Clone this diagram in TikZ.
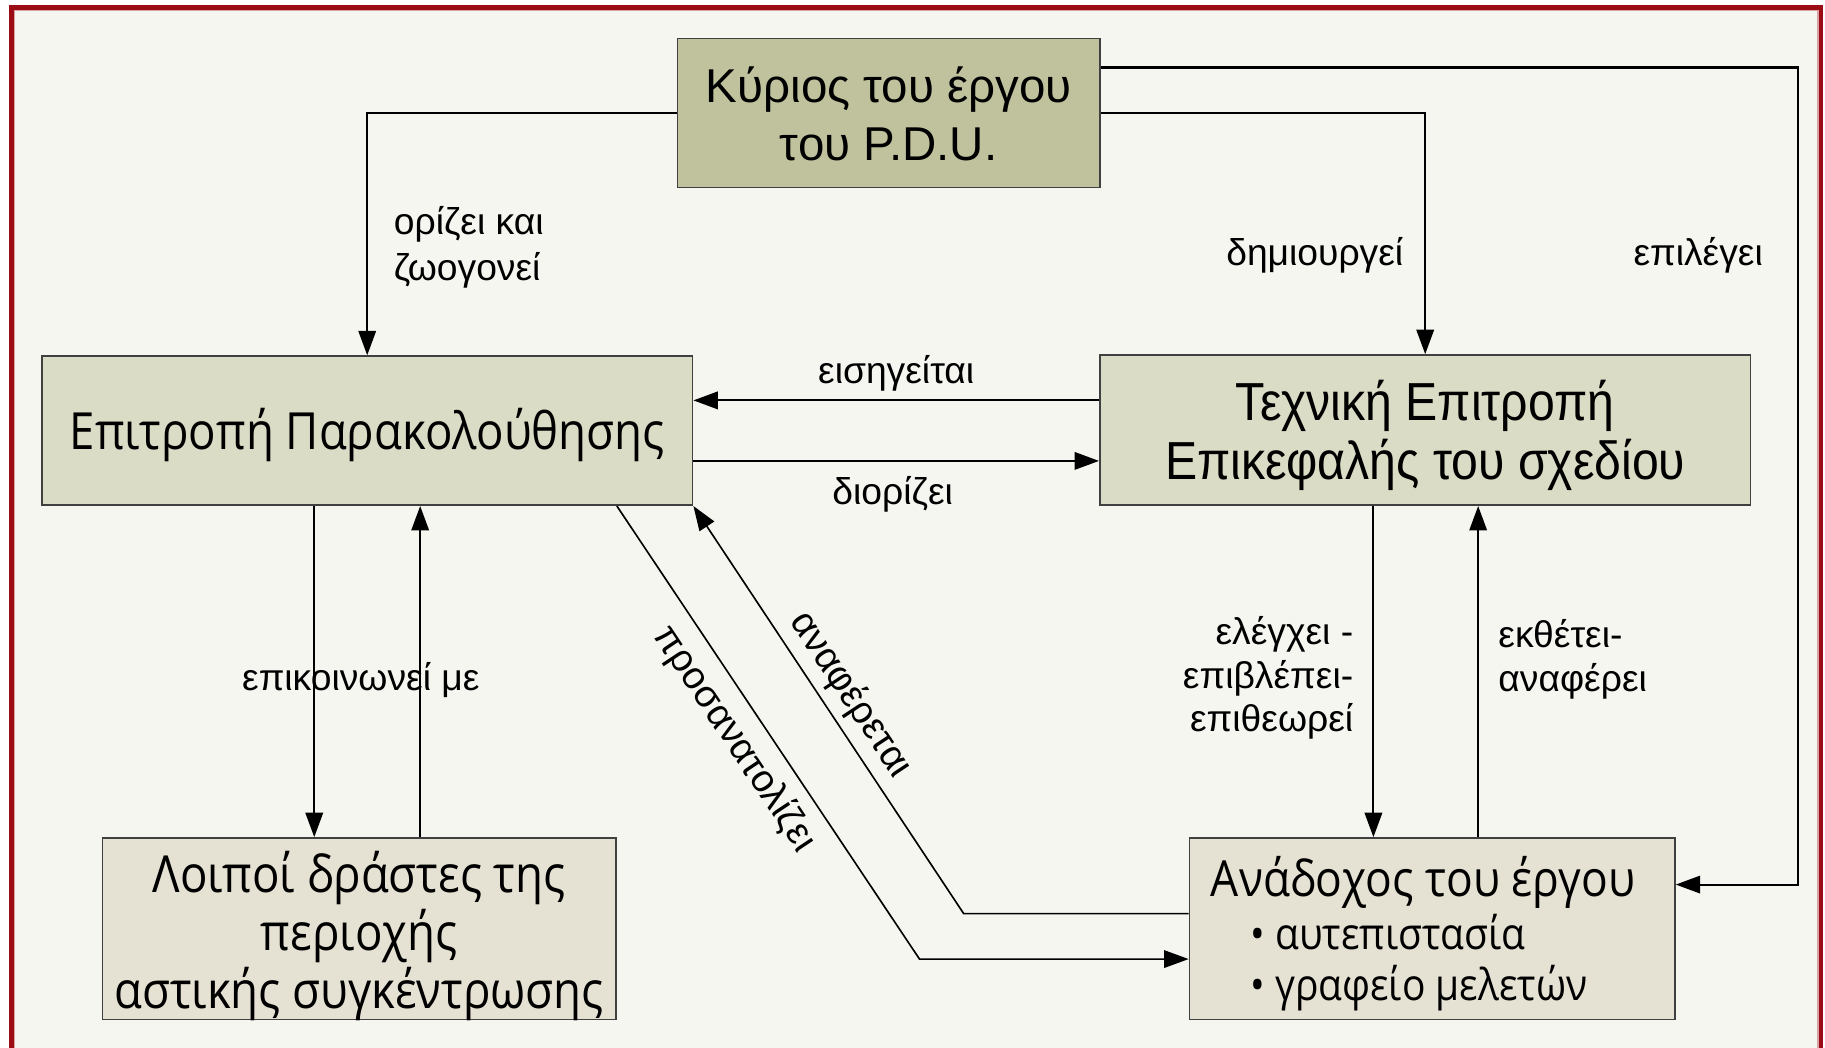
\documentclass[tikz,border=0pt]{standalone}
\usepackage{fontspec}
\setmainfont{Liberation Sans}
\newfontfamily\fArial{Liberation Sans}
\newfontfamily\fNarrow{Liberation Sans}[FakeStretch=0.9]
\newfontfamily\fHum{Open Sans}[FakeStretch=0.89]
\usetikzlibrary{arrows.meta}
\definecolor{frameRed}{HTML}{9C0C15}
\definecolor{framePink}{HTML}{D8A2A5}
\definecolor{bgPaper}{HTML}{F6F6F1}
\definecolor{boxTop}{HTML}{BFC29D}
\definecolor{boxMid}{HTML}{DBDCC6}
\definecolor{boxLow}{HTML}{E5E2D3}
\definecolor{boxEdge}{HTML}{404040}
\tikzset{
  box/.style={draw=boxEdge, line width=0.75pt, inner sep=0pt},
  btext/.style={inner sep=0pt, align=center, text=black},
  etext/.style={inner sep=0pt, anchor=base west, text=black},
  conn/.style={line width=0.9pt, draw=black},
  arr/.style={conn, -{Triangle[length=10.5pt,width=7.5pt]}},
  diag/.style={line width=0.7pt, draw=black},
  lbl/.style={inner sep=0pt, text=black, font=\fArial\fontsize{16}{19.5}\selectfont},
}
\begin{document}
\begin{tikzpicture}[x=0.5pt, y=-0.5pt]
\useasboundingbox (0,0) rectangle (1568,900);
\clip (0,0) rectangle (1568,900);
\fill[white] (0,0) rectangle (1568,900);
% frame
\fill[bgPaper] (10,6.4) rectangle (1564.5,920);
\draw[framePink, line width=0.6pt] (12.6,9) rectangle (1562,920);
\draw[frameRed, line width=2.1pt] (10,6.4) rectangle (1564.5,920);

% boxes
\node[box, fill=boxTop, minimum width=181.5pt, minimum height=64pt] (A) at (763.5,97) {};
\node[box, fill=boxMid, minimum width=279.5pt, minimum height=64pt] (B) at (315.5,370) {};
\node[box, fill=boxMid, minimum width=279.5pt, minimum height=64.5pt] (C) at (1224.5,369.5) {};
\node[box, fill=boxLow, minimum width=220.5pt, minimum height=78pt] (D) at (308.5,798) {};
\node[box, fill=boxLow, minimum width=208.5pt, minimum height=78pt] (E) at (1230.5,798) {};

% box texts
\node[btext, font=\fArial\fontsize{20.4}{25}\selectfont] (At) at (763.5,98)
      {Κύριος του έργου\\του P.D.U.};
\node[btext, font=\fHum\fontsize{22}{25}\selectfont] (Bt) at (315.5,373.5)
      {Επιτροπή Παρακολούθησης};
\node[btext, font=\fNarrow\fontsize{23}{25}\selectfont] (Ct) at (1224.5,374)
      {Τεχνική Επιτροπή\\Επικεφαλής του σχεδίου};
\node[btext, font=\fHum\fontsize{22}{25}\selectfont] (Dt) at (308.5,804)
      {Λοιποί δράστες της\\περιοχής\\αστικής συγκέντρωσης};
\node[etext, font=\fHum\fontsize{21.4}{25}\selectfont] (Et1) at (1040,770) {Ανάδοχος του έργου};
\node[etext, font=\fHum\fontsize{18.8}{22}\selectfont] (Et2) at (1074,815.5) {• αυτεπιστασία};
\node[etext, font=\fHum\fontsize{18.8}{22}\selectfont] (Et3) at (1074,859.5) {• γραφείο μελετών};

% corner coordinates
\coordinate (selTop) at (1545,58);
\coordinate (selBot) at (1545,760);
\coordinate (orBend) at (790,824);
\coordinate (anBend) at (828,785);

% connectors
\draw[arr] (A.west) -| (B.north);
\draw[arr] (A.east) -| (C.north);
\draw[arr] (A.east |- selTop) -- (selTop) -- (selBot) -- (E.east |- selBot);
\draw[arr] (C.west |- 0,344) -- (B.east |- 0,344);
\draw[arr] (B.east |- 0,396) -- (C.west |- 0,396);
\draw[arr] (B.south -| 270,0) -- (D.north -| 270,0);
\draw[arr] (D.north -| 361,0) -- (B.south -| 361,0);
\draw[arr] (C.south -| 1180,0) -- (E.north -| 1180,0);
\draw[arr] (E.north -| 1270,0) -- (C.south -| 1270,0);
\draw[diag, -{Triangle[length=10.5pt,width=7.5pt]}] (B.south -| 530,0) -- (orBend) -- (E.west |- orBend);
\draw[diag, {Triangle[length=10.5pt,width=7.5pt]}-] (B.south east) -- (anBend) -- (E.west |- anBend);

% labels
\node[lbl, anchor=west, align=left] (lOriz) at (338,212.5) {ορίζει και\\ζωογονεί};
\node[lbl, anchor=east] (lDim) at (1206,219.5) {δημιουργεί};
\node[lbl] (lEpil) at (1459,219.5) {επιλέγει};
\node[lbl] (lEis) at (770,321) {εισηγείται};
\node[lbl] (lDior) at (767,425) {διορίζει};
\node[lbl] (lEpik) at (310,584) {επικοινωνεί με};
\node[lbl, anchor=east, align=right, font=\fArial\fontsize{16}{18.75}\selectfont] (lEleg) at (1163,582.5) {ελέγχει -\\επιβλέπει-\\επιθεωρεί};
\node[lbl, anchor=west, align=left, font=\fArial\fontsize{16}{19}\selectfont] (lEkth) at (1287,566.5) {εκθέτει-\\αναφέρει};
\node[lbl, rotate=-56.3, font=\fArial\fontsize{16.5}{19}\selectfont] (lPros) at (631,635) {προσανατολίζει};
\node[lbl, rotate=-56.4, font=\fArial\fontsize{16.5}{19}\selectfont] (lAnaf) at (731,597) {αναφέρεται};
\end{tikzpicture}
\end{document}
